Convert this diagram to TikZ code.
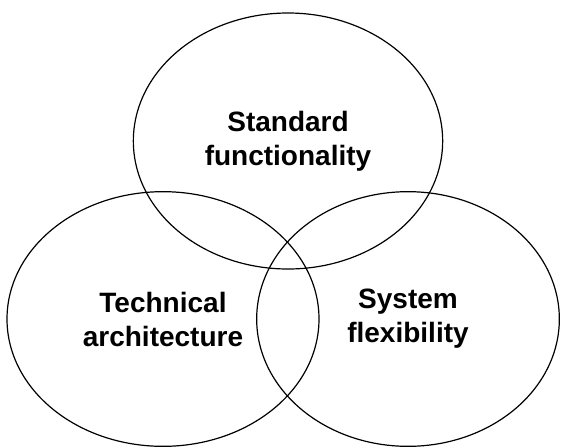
\documentclass[tikz,border=0pt]{standalone}
\usepackage{fontspec}
\setmainfont{Liberation Sans}
\usetikzlibrary{shapes.geometric}
\tikzset{venn/.style={ellipse,draw,line width=0.9pt,inner sep=0pt,align=center,font=\fontsize{21}{25.5}\selectfont\bfseries}}

\begin{document}
\begin{tikzpicture}[x=0.75pt,y=-0.75pt]
\useasboundingbox (0,0) rectangle (563,447);
    \node[venn,minimum width=232pt,minimum height=192pt] (std) at (288,141) {Standard\\functionality};
    \node[venn,minimum width=234pt,minimum height=191pt] (tech) at (163,319) {Technical\\architecture};
    \node[venn,minimum width=227pt,minimum height=191pt] (flex) at (408,319) {System\\flexibility};
\end{tikzpicture}
\end{document}
